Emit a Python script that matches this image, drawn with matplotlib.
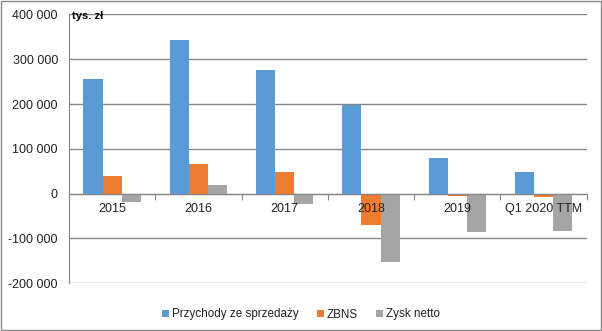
import numpy as np
import matplotlib.pyplot as plt
from matplotlib.patches import Rectangle
from matplotlib.ticker import FuncFormatter, FixedLocator

plt.rcParams['font.family'] = ['Liberation Sans', 'DejaVu Sans']

# przychody, ZBNS, zysk netto (tys. zł)
years = ['2015', '2016', '2017', '2018', '2019', 'Q1 2020 TTM']
przychody = [255000, 344000, 277000, 197000, 80000, 47000]
zbns = [38000, 65000, 47000, -71000, -6000, -8000]
zysk = [-20000, 18000, -24000, -152000, -86000, -84000]

series = [('Przychody ze sprzedaży', przychody, '#5B9BD5'),
          ('ZBNS', zbns, '#ED7D31'),
          ('Zysk netto', zysk, '#A5A5A5')]

fig = plt.figure(figsize=(6.02, 3.31), dpi=100)
ax = fig.add_axes([0.1146, 0.145, 0.86, 0.8112])

ind = np.arange(len(years))
w = 1 / 4.5
for i, (name, vals, col) in enumerate(series):
    ax.bar(ind + (i - 1) * w, vals, w, color=col, label=name, zorder=3)

ax.set_xlim(-0.5, len(years) - 0.5)
ax.set_ylim(-200000, 400000)
ax.set_yticks(np.arange(-200000, 400001, 100000))
ax.yaxis.set_major_formatter(FuncFormatter(lambda v, p: '{:,.0f}'.format(v).replace(',', ' ')))
ax.grid(axis='y', color='#868686', lw=1, zorder=0)
ax.tick_params(axis='y', length=0, pad=8, labelsize=9, labelcolor='#222222')

for s in ['top', 'right']:
    ax.spines[s].set_visible(False)
ax.spines['left'].set_color('#868686')
ax.spines['bottom'].set_position(('data', 0))
ax.spines['bottom'].set_color('#868686')
ax.spines['bottom'].set_zorder(4)

# tick marks between categories; names written on top of the bars
ax.xaxis.set_major_locator(FixedLocator(np.arange(-0.5, len(years), 1.0)))
ax.xaxis.set_major_formatter(FuncFormatter(lambda v, p: ''))
ax.tick_params(axis='x', which='major', length=4, color='#868686', direction='out')
for i, name in enumerate(years):
    ax.annotate(name, xy=(i, 0), xytext=(0, -7), textcoords='offset points',
                ha='center', va='top', fontsize=9, color='#222222', zorder=6)

ax.text(0.006, 0.995, 'tys. zł', transform=ax.transAxes, fontsize=8,
        fontweight='bold', va='center', ha='left', zorder=6)

fig.legend(loc='lower center', bbox_to_anchor=(0.5, 0.0), ncol=3, frameon=False,
           fontsize=8.4, handlelength=0.6, handleheight=0.6, handletextpad=0.3,
           columnspacing=1.5, labelcolor='#222222')

fig.patches.append(Rectangle((0.001, 0.002), 0.997, 0.995, transform=fig.transFigure,
                             fill=False, edgecolor='#888888', lw=1))

plt.savefig('out.png', dpi=100)
